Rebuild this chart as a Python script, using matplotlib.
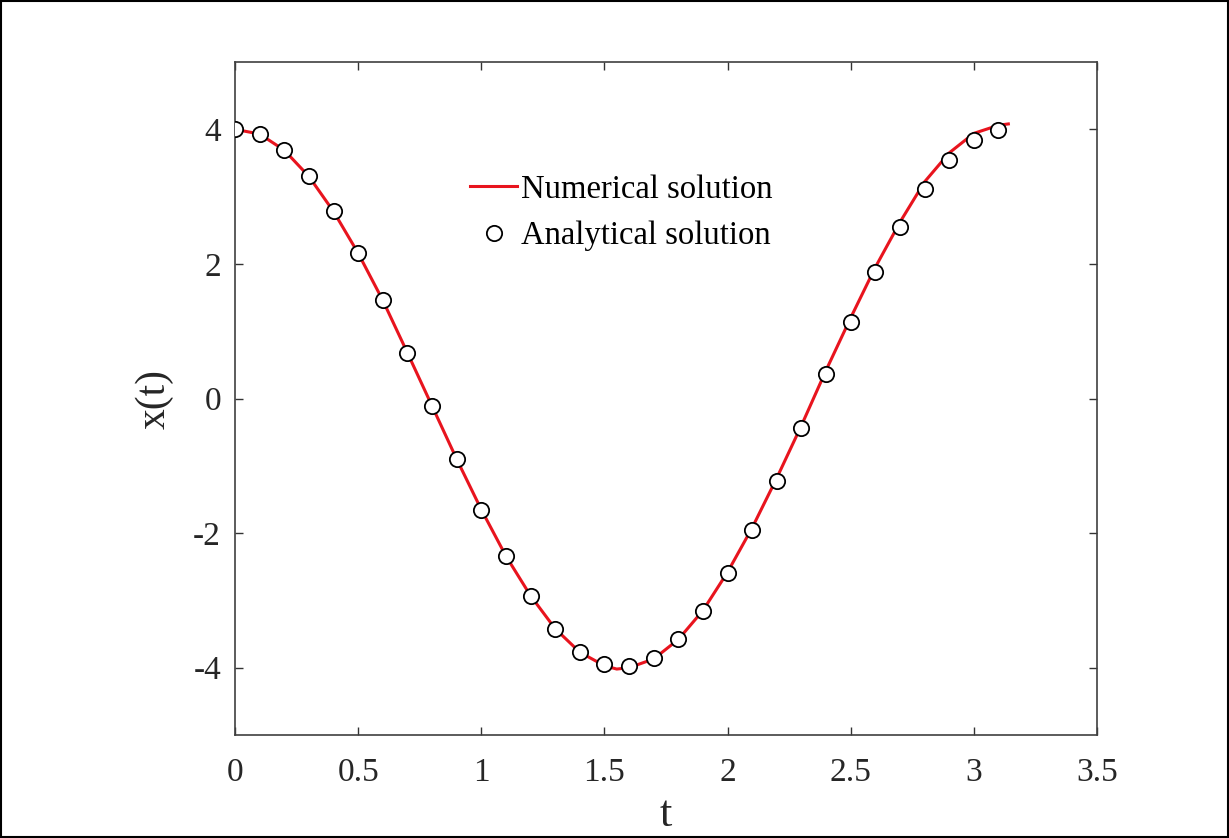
import matplotlib.pyplot as plt
from matplotlib.patches import Rectangle

plt.rcParams.update({'font.family': 'Liberation Serif', 'font.size': 24})

# analytical solution
t_ana = [0.0, 0.1, 0.2, 0.3, 0.4, 0.5, 0.6, 0.7, 0.8, 0.9, 1.0, 1.1, 1.2, 1.3, 1.4, 1.5,
         1.6, 1.7, 1.8, 1.9, 2.0, 2.1, 2.2, 2.3, 2.4, 2.5, 2.6, 2.7, 2.8, 2.9, 3.0, 3.1]
x_ana = [4.00, 3.93, 3.69, 3.30, 2.78, 2.16, 1.46, 0.68, -0.11, -0.90, -1.65, -2.34, -2.93,
         -3.42, -3.76, -3.95, -3.98, -3.85, -3.57, -3.15, -2.60, -1.95, -1.22, -0.44, 0.36,
         1.13, 1.88, 2.55, 3.11, 3.54, 3.84, 3.99]

# numerical solution
t_num = [0.0, 0.1, 0.2, 0.3, 0.4, 0.5, 0.6, 0.7, 0.8, 0.9, 1.0, 1.1, 1.2, 1.3, 1.4, 1.5,
         1.55, 1.6, 1.7, 1.8, 1.9, 2.0, 2.1, 2.2, 2.3, 2.4, 2.5, 2.6, 2.7, 2.8, 2.9, 3.0,
         3.1, 3.14]
x_num = [4.00, 3.93, 3.69, 3.30, 2.78, 2.16, 1.46, 0.68, -0.11, -0.90, -1.65, -2.34, -2.93,
         -3.42, -3.77, -3.97, -4.02, -4.00, -3.87, -3.58, -3.15, -2.58, -1.92, -1.18, -0.40,
         0.42, 1.20, 1.95, 2.62, 3.22, 3.65, 3.94, 4.06, 4.08]

fig = plt.figure(figsize=(12.29, 8.38), dpi=100)
ax = fig.add_axes([0.1912, 0.1229, 0.7014, 0.8031])

ax.plot(t_num, x_num, color='#e8141e', lw=2.2, label='Numerical solution', zorder=2)
ax.plot(t_ana, x_ana, 'o', ms=11, mfc='white', mec='black', mew=1.3,
        label='Analytical solution', zorder=3)

ax.set_xlim(0, 3.5)
ax.set_ylim(-5, 5)
ax.set_xticks([0, 0.5, 1, 1.5, 2, 2.5, 3, 3.5], ['0', '0.5', '1', '1.5', '2', '2.5', '3', '3.5'])
ax.set_yticks([-4, -2, 0, 2, 4], ['-4', '-2', '0', '2', '4'])
ax.tick_params(direction='in', length=6, width=1, top=True, right=True,
               colors='#333333', labelcolor='#262626')
ax.tick_params(axis='x', pad=16)
ax.tick_params(axis='y', pad=10)
for s in ax.spines.values():
    s.set_color('#404040')
    s.set_linewidth(1.2)

ax.set_xlabel('t', fontsize=32, color='#262626', va='baseline')
ax.xaxis.set_label_coords(0.5, -0.135)
ax.set_ylabel('x(t)', fontsize=30, color='#262626', va='center')
ax.yaxis.set_label_coords(-0.094, 0.5)

ax.legend(loc='upper left', bbox_to_anchor=(470/1229, 1 - 174/838), bbox_transform=fig.transFigure,
          frameon=False, borderpad=0, handlelength=1.45, handletextpad=0.1, labelspacing=0.5,
          borderaxespad=0, fontsize=23.5)

# outer frame around the whole picture
fig.patches.append(Rectangle((0.001, 0.001), 0.998, 0.998, transform=fig.transFigure,
                             fill=False, edgecolor='black', lw=1.5))

fig.savefig('out.png', dpi=100)
